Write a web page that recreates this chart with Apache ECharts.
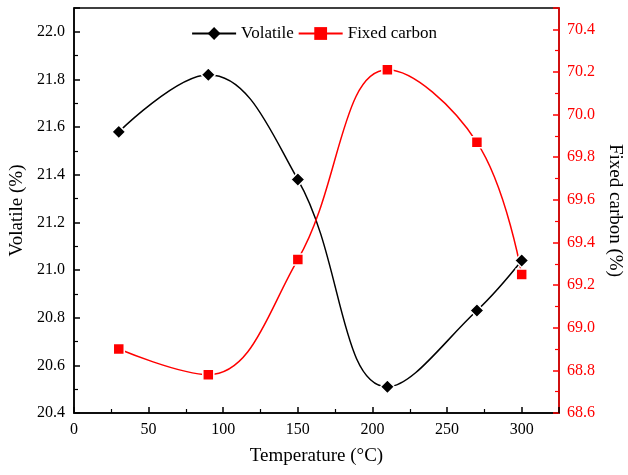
<!DOCTYPE html>
<html><head><meta charset="utf-8">
<script src="https://cdn.jsdelivr.net/npm/echarts@6/dist/echarts.min.js"></script>
<style>html,body{margin:0;padding:0;background:#fff}#c{width:628px;height:475px}</style>
</head><body><div id="c"></div>
<script>
const temps = [30, 90, 150, 210, 270, 300];
const volatile = [21.58, 21.82, 21.38, 20.51, 20.83, 21.04];
const fixedCarbon = [68.90, 68.78, 69.32, 70.21, 69.87, 69.25];

const F = 'Liberation Serif, Times New Roman, serif';
const chart = echarts.init(document.getElementById('c'));
const pair = (xs, ys) => xs.map((x, i) => [x, ys[i]]);
chart.setOption({
  animation: false,
  textStyle: {fontFamily: F},
  grid: {left: 74, right: 69, top: 8, bottom: 62, outerBoundsMode: 'none', containLabel: false,
         show: true, borderColor: '#000', borderWidth: 1.5, backgroundColor: 'transparent'},
  legend: {
    top: 20, left: 'center', itemWidth: 44, itemHeight: 16, itemGap: 4,
    itemStyle: {borderWidth: 0},
    textStyle: {fontFamily: F, fontSize: 17, color: '#000'},
    data: ['Volatile', 'Fixed carbon']
  },
  xAxis: {
    type: 'value', min: 0, max: 325, interval: 50,
    name: 'Temperature (°C)', nameLocation: 'middle', nameGap: 34,
    nameTextStyle: {fontFamily: F, fontSize: 19, color: '#000'},
    axisLine: {lineStyle: {color: '#000', width: 1.5}},
    axisTick: {inside: true, length: 6, lineStyle: {color: '#000', width: 1.5}},
    minorTick: {show: true, splitNumber: 2, length: 4, lineStyle: {color: '#000', width: 1.2}},
    axisLabel: {fontFamily: F, fontSize: 16, color: '#000', margin: 9, showMaxLabel: false},
    splitLine: {show: false}
  },
  yAxis: [{
    type: 'value', min: 20.4, max: 22.1, interval: 0.2, position: 'left',
    name: 'Volatile (%)', nameLocation: 'middle', nameGap: 46,
    nameTextStyle: {fontFamily: F, fontSize: 19, color: '#000'},
    axisLine: {show: true, lineStyle: {color: '#000', width: 1.5}},
    axisTick: {inside: true, length: 6, lineStyle: {color: '#000', width: 1.5}},
    minorTick: {show: true, splitNumber: 2, length: 4, lineStyle: {color: '#000', width: 1.2}},
    axisLabel: {fontFamily: F, fontSize: 16, color: '#000', margin: 9, formatter: v => v.toFixed(1), showMaxLabel: false},
    splitLine: {show: false}
  }, {
    type: 'value', min: 68.6, max: 70.5, interval: 0.2, position: 'right',
    name: 'Fixed carbon (%)', nameLocation: 'middle', nameGap: 44, nameRotate: -90,
    nameTextStyle: {fontFamily: F, fontSize: 19, color: '#000'},
    axisLine: {show: true, lineStyle: {color: '#ff0000', width: 1.5}},
    axisTick: {inside: true, length: 6, lineStyle: {color: '#ff0000', width: 1.5}},
    minorTick: {show: true, splitNumber: 2, length: 4, lineStyle: {color: '#ff0000', width: 1.2}},
    axisLabel: {fontFamily: F, fontSize: 16, color: '#ff0000', margin: 8, formatter: v => v.toFixed(1), showMaxLabel: false},
    splitLine: {show: false}
  }],
  series: [{
    name: 'Volatile', type: 'line', yAxisIndex: 0, smooth: 0.4,
    data: pair(temps, volatile),
    symbol: 'diamond', symbolSize: 14,
    lineStyle: {color: '#000', width: 1.5},
    itemStyle: {color: '#000', borderColor: '#fff', borderWidth: 1.5}
  }, {
    name: 'Fixed carbon', type: 'line', yAxisIndex: 1, smooth: 0.4,
    data: pair(temps, fixedCarbon),
    symbol: 'rect', symbolSize: 11,
    lineStyle: {color: '#ff0000', width: 1.5},
    itemStyle: {color: '#ff0000', borderColor: '#fff', borderWidth: 1.5}
  }]
});
</script></body></html>
